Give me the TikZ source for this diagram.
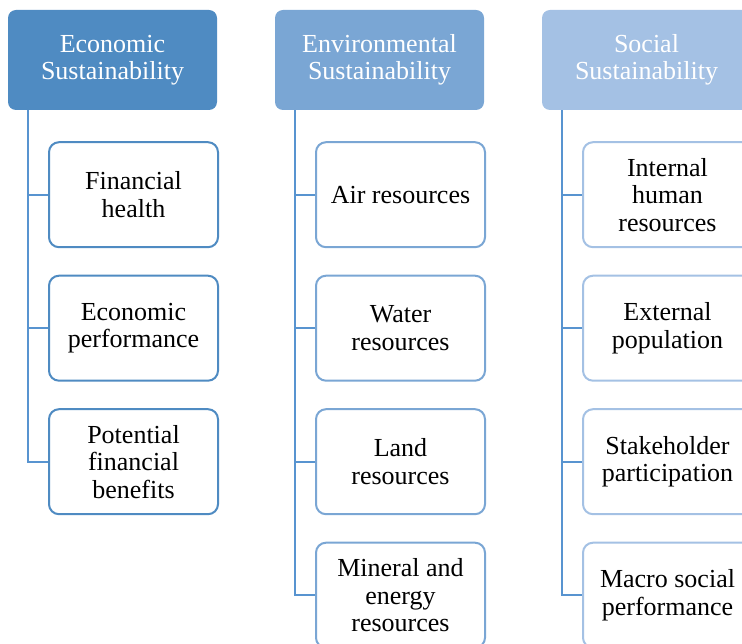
\documentclass[tikz,border=0pt]{standalone}
\usepackage{fontspec}
\setmainfont{Liberation Serif}
\usepackage{xcolor}
\usetikzlibrary{positioning}
\definecolor{ecoBlue}{RGB}{79,139,194}
\definecolor{envBlue}{RGB}{122,166,212}
\definecolor{socBlue}{RGB}{164,193,228}
\definecolor{connBlue}{RGB}{88,148,208}

\begin{document}
\begin{tikzpicture}[
  x=1pt, y=-1pt,
  node distance=26.5pt,
  font=\fontsize{26}{27.5}\selectfont,
  head/.style={rounded corners=8pt, align=center, text=white, minimum width=209pt, minimum height=100pt, inner sep=0pt},
  item/.style={draw, line width=2pt, fill=white, rounded corners=10pt, align=center, minimum width=169pt, minimum height=105pt, inner sep=0pt},
  conn/.style={line width=2pt, draw=connBlue}
]
\useasboundingbox (0,0) rectangle (742,644);
\clip (0,0) rectangle (742,644);

% headers
\node[head, fill=ecoBlue] (eco) at (112.5,60) {Economic\\Sustainability};
\node[head, fill=envBlue] (env) at (379.5,60) {Environmental\\Sustainability};
\node[head, fill=socBlue] (soc) at (646.5,60) {Social\\Sustainability};

% trunk tops
\coordinate (ecoT) at ([xshift=20pt]eco.south west);
\coordinate (envT) at ([xshift=20pt]env.south west);
\coordinate (socT) at ([xshift=20pt]soc.south west);

% economic
\node[item, draw=ecoBlue, below=31pt of eco, xshift=21pt] (fin) {Financial\\health};
\node[item, draw=ecoBlue, below=of fin] (perf) {Economic\\performance};
\node[item, draw=ecoBlue, below=of perf] (pot) {Potential\\financial\\benefits};

% environmental
\node[item, draw=envBlue, below=31pt of env, xshift=21pt] (air) {Air resources};
\node[item, draw=envBlue, below=of air] (water) {Water\\resources};
\node[item, draw=envBlue, below=of water] (land) {Land\\resources};
\node[item, draw=envBlue, below=of land] (mineral) {Mineral and\\energy\\resources};

% social
\node[item, draw=socBlue, below=31pt of soc, xshift=21pt] (human) {Internal\\human\\resources};
\node[item, draw=socBlue, below=of human] (pop) {External\\population};
\node[item, draw=socBlue, below=of pop] (stake) {Stakeholder\\participation};
\node[item, draw=socBlue, below=of stake] (macro) {Macro social\\performance};

% connectors
\draw[conn] (ecoT) |- (pot.west);
\draw[conn] (fin.west) -- (fin.west -| ecoT);
\draw[conn] (perf.west) -- (perf.west -| ecoT);
\draw[conn] (envT) |- (mineral.west);
\draw[conn] (air.west) -- (air.west -| envT);
\draw[conn] (water.west) -- (water.west -| envT);
\draw[conn] (land.west) -- (land.west -| envT);
\draw[conn] (socT) |- (macro.west);
\draw[conn] (human.west) -- (human.west -| socT);
\draw[conn] (pop.west) -- (pop.west -| socT);
\draw[conn] (stake.west) -- (stake.west -| socT);
\end{tikzpicture}
\end{document}
